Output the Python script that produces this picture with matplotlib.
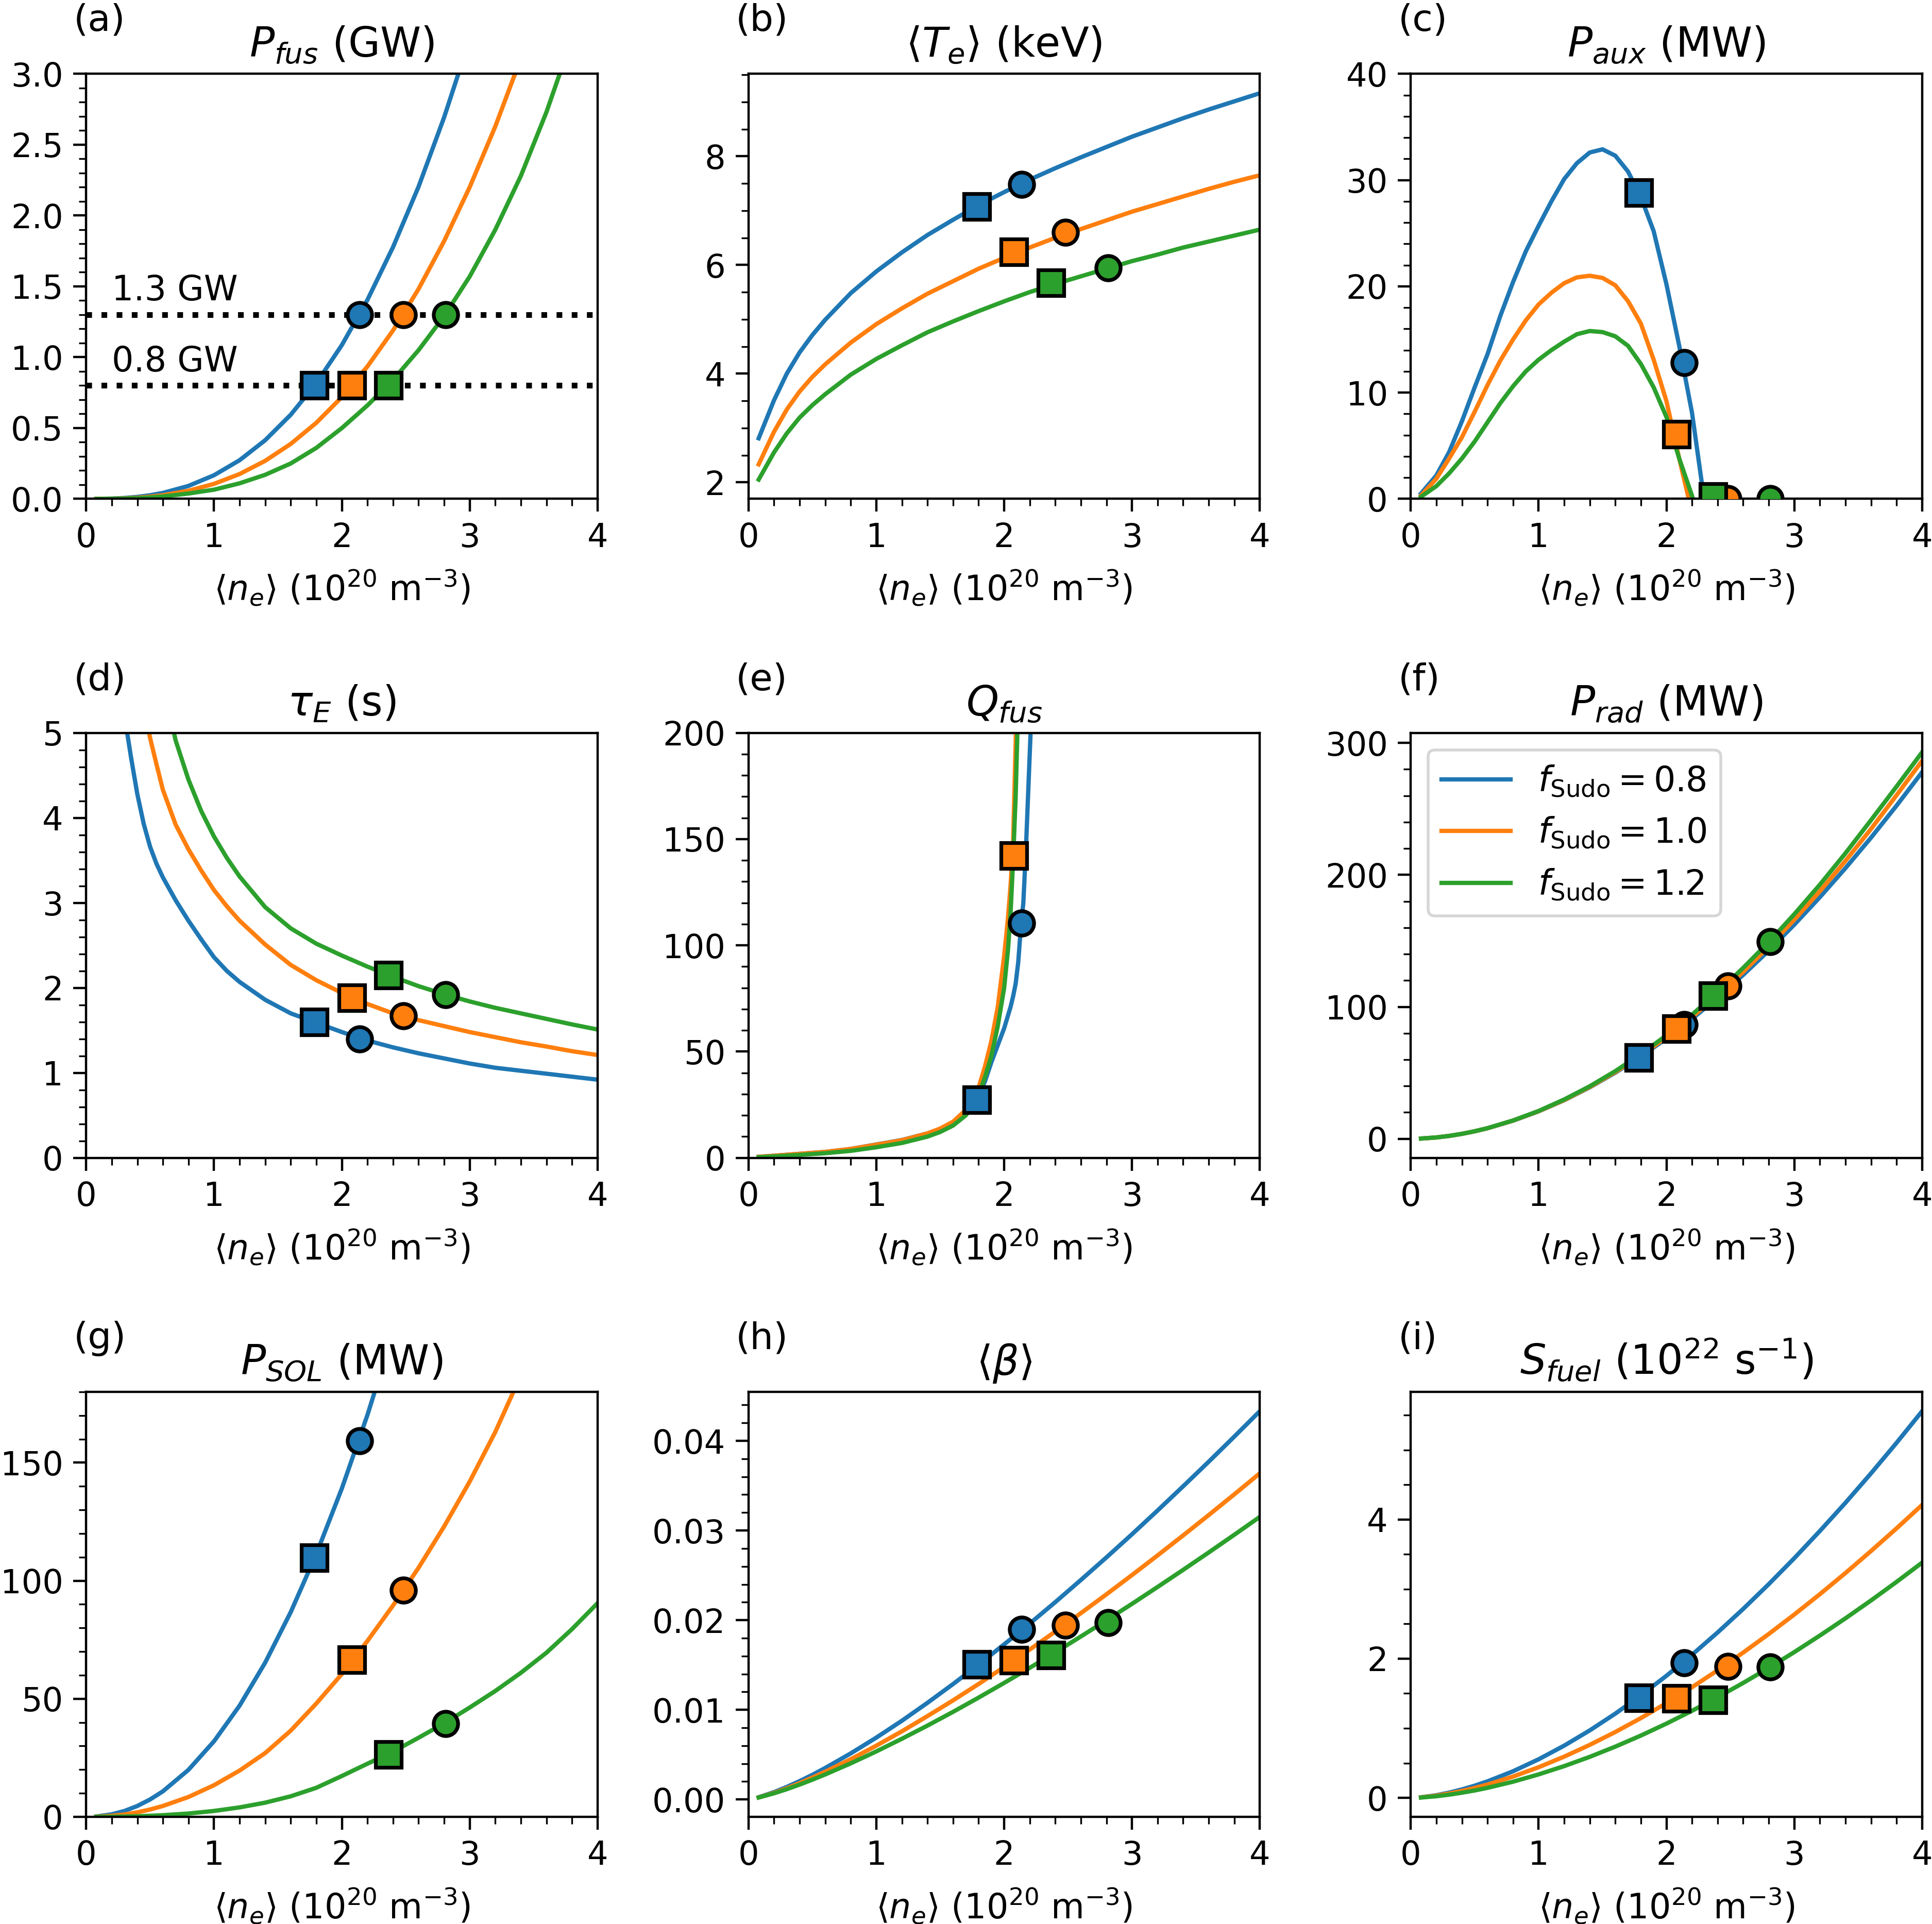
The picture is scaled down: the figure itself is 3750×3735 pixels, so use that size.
import numpy as np
import matplotlib
matplotlib.use('Agg')
import matplotlib.pyplot as plt
from matplotlib.ticker import MultipleLocator, AutoMinorLocator

# density grids (1e20 m^-3)
ne = [0.08, 0.2, 0.3, 0.4, 0.5, 0.6, 0.8, 1.0, 1.2, 1.4, 1.6, 1.8, 2.0,
      2.2, 2.4, 2.6, 2.8, 3.0, 3.2, 3.4, 3.6, 3.8, 4.0]
ne_aux = [0.08, 0.2, 0.3, 0.4, 0.5, 0.6, 0.7, 0.8, 0.9, 1.0, 1.1, 1.2, 1.3,
          1.4, 1.5, 1.6, 1.7, 1.8, 1.9, 2.0, 2.1, 2.2, 2.3, 2.4]
ne_tau = [0.3, 0.35, 0.4, 0.45, 0.5, 0.55, 0.6, 0.7, 0.8, 0.9, 1.0, 1.1, 1.2,
          1.4, 1.6, 1.8, 2.0, 2.2, 2.4, 2.6, 2.8, 3.0, 3.2, 3.4, 3.6, 3.8, 4.0]
ne_q = [0.08, 0.2, 0.4, 0.6, 0.8, 1.0, 1.2, 1.4, 1.5, 1.6, 1.7, 1.75, 1.8,
        1.85, 1.9, 1.95, 2.0, 2.03, 2.05, 2.07, 2.09, 2.11, 2.13, 2.15,
        2.17, 2.19, 2.21, 2.23]

f_sudo = ['0.8', '1.0', '1.2']

pfus_08 = [0.0002, 0.0022, 0.0065, 0.0141, 0.0257, 0.0421, 0.0915, 0.167, 0.273, 0.414, 0.594, 0.817,
           1.086, 1.405, 1.777, 2.204, 2.694, 3.245, 3.86, 4.55, 5.31, 6.15, 7.05]
pfus_10 = [0.0001, 0.0013, 0.0038, 0.0085, 0.0157, 0.0259, 0.0573, 0.106, 0.1755, 0.2686, 0.388, 0.537,
           0.719, 0.935, 1.189, 1.482, 1.820, 2.201, 2.629, 3.11, 3.64, 4.22, 4.87]
pfus_12 = [0.0001, 0.0008, 0.0025, 0.0056, 0.0105, 0.0175, 0.038, 0.065, 0.11, 0.17, 0.25, 0.36,
           0.50, 0.66, 0.84, 1.05, 1.29, 1.57, 1.90, 2.28, 2.73, 3.25, 3.85]

te_08 = [2.81, 3.51, 4.00, 4.39, 4.71, 4.99, 5.48, 5.88, 6.23, 6.55, 6.83, 7.10,
         7.34, 7.57, 7.78, 7.98, 8.17, 8.36, 8.53, 8.70, 8.86, 9.01, 9.16]
te_10 = [2.33, 2.93, 3.34, 3.67, 3.94, 4.17, 4.57, 4.91, 5.20, 5.47, 5.70, 5.93,
         6.13, 6.32, 6.50, 6.66, 6.82, 6.98, 7.12, 7.26, 7.40, 7.53, 7.65]
te_12 = [2.05, 2.55, 2.90, 3.19, 3.42, 3.62, 3.98, 4.27, 4.52, 4.76, 4.96, 5.15,
         5.33, 5.50, 5.65, 5.79, 5.93, 6.07, 6.19, 6.32, 6.43, 6.54, 6.65]

paux_08 = [0.5, 2.2, 4.4, 7.3, 10.5, 13.6, 17.2, 20.4, 23.3, 25.7, 28.0, 30.1,
           31.6, 32.6, 32.9, 32.3, 30.8, 28.4, 25.2, 20.2, 14.4, 8.1, -0.5, -10.0]
paux_10 = [0.3, 1.9, 3.8, 5.8, 8.2, 10.7, 13.0, 15.0, 16.8, 18.3, 19.4, 20.3,
           20.85, 21.0, 20.8, 20.1, 18.6, 16.5, 13.1, 9.2, 3.8, -1.3, -6.0, -11.0]
paux_12 = [0.2, 1.2, 2.4, 3.8, 5.4, 7.2, 9.0, 10.6, 12.0, 13.1, 14.0, 14.8,
           15.5, 15.8, 15.7, 15.3, 14.4, 12.7, 10.5, 7.7, 3.8, 0.3, -4.0, -9.0]

tau_08 = [5.2, 4.72, 4.28, 3.93, 3.66, 3.46, 3.30, 3.03, 2.79, 2.57, 2.36, 2.20, 2.07,
          1.86, 1.70, 1.59, 1.48, 1.38, 1.30, 1.23, 1.17, 1.11, 1.06, 1.025, 0.99, 0.955, 0.92]
tau_10 = [7.1, 6.35, 5.75, 5.32, 4.94, 4.63, 4.33, 3.92, 3.63, 3.38, 3.15, 2.96, 2.79,
          2.51, 2.27, 2.09, 1.94, 1.81, 1.70, 1.62, 1.55, 1.48, 1.42, 1.36, 1.31, 1.255, 1.21]
tau_12 = [12.5, 10.4, 8.9, 7.8, 6.9, 6.2, 5.6, 4.91, 4.45, 4.08, 3.78, 3.53, 3.31,
          2.95, 2.70, 2.52, 2.38, 2.25, 2.13, 2.02, 1.925, 1.84, 1.765, 1.70, 1.635, 1.57, 1.51]

qfus_08 = [0.5, 1.0, 1.9, 2.8, 4.2, 6.3, 8.4, 11.5, 13.6, 16.5, 21.0, 24.5, 29.0, 36.0,
           45.0, 53.0, 61.0, 67.0, 71.0, 76.0, 82.0, 92.0, 108.0, 120.0, 145.0, 175.0, 205.0, 250.0]
qfus_10 = [0.5, 1.0, 1.9, 2.8, 4.2, 6.2, 8.3, 11.5, 13.8, 17.0, 22.5, 27.0, 33.0, 43.0,
           55.0, 71.0, 95.0, 113.0, 128.0, 148.0, 195.0, 260.0, 330.0, 400.0, 400.0, 400.0, 400.0, 400.0]
qfus_12 = [0.3, 0.7, 1.4, 2.2, 3.3, 5.0, 7.0, 10.0, 12.2, 15.2, 20.0, 24.0, 29.5, 38.0,
           48.0, 62.0, 80.0, 98.0, 115.0, 140.0, 170.0, 215.0, 290.0, 400.0, 400.0, 400.0, 400.0, 400.0]

prad_08 = [0.2, 1.03, 2.19, 3.75, 5.69, 8.0, 13.7, 20.8, 29.2, 39.0, 50.1, 62.4,
           76.0, 90.9, 106.9, 124.2, 142.6, 162.3, 183.1, 205.1, 228.2, 252.5, 277.9]
prad_10 = [0.2, 1.03, 2.19, 3.75, 5.7, 8.0, 13.8, 20.9, 29.4, 39.3, 50.6, 63.1,
           77.0, 92.2, 108.7, 126.5, 145.6, 166.0, 187.6, 210.6, 234.8, 260.4, 286.5]
prad_12 = [0.2, 1.03, 2.2, 3.77, 5.72, 8.05, 13.9, 21.1, 29.8, 39.8, 51.3, 64.2,
           78.4, 94.1, 111.0, 129.5, 149.1, 170.2, 192.6, 216.4, 241.5, 267.0, 293.0]

psol_08 = [0.15, 1.06, 2.49, 4.59, 7.36, 10.8, 19.9, 32.0, 47.1, 65.3, 86.7, 111.3,
           139.1, 170.2, 204.7, 242.0, 283.0, 330.0, 378.0, 430.0, 485.0, 545.0, 605.0]
psol_10 = [0.05, 0.45, 1.0, 1.9, 3.1, 4.6, 8.4, 13.4, 19.6, 27.0, 36.5, 48.0,
           60.5, 74.5, 89.5, 105.5, 123.0, 142.0, 163.0, 187.0, 213.0, 241.0, 271.0]
psol_12 = [0.0, 0.05, 0.12, 0.25, 0.45, 0.7, 1.4, 2.5, 4.0, 6.0, 8.7, 12.3,
           17.3, 22.5, 27.6, 33.5, 39.6, 46.3, 53.3, 61.0, 69.5, 79.5, 90.5]

beta_08 = [0.00025, 0.00082, 0.0014, 0.00205, 0.00275, 0.00351, 0.00514, 0.0069, 0.00878, 0.01078,
           0.01287, 0.01504, 0.0173, 0.01962, 0.02201, 0.02448, 0.027, 0.02958, 0.03223, 0.03493,
           0.03767, 0.04047, 0.04331]
beta_10 = [0.00023, 0.00074, 0.00125, 0.00182, 0.00244, 0.00309, 0.00449, 0.006, 0.0076, 0.0093,
           0.01105, 0.01288, 0.01477, 0.01672, 0.01873, 0.02078, 0.02288, 0.02503, 0.02722, 0.02945,
           0.03172, 0.03403, 0.03638]
beta_12 = [0.00022, 0.00069, 0.00115, 0.00166, 0.00221, 0.00279, 0.00403, 0.00536, 0.00677, 0.00824,
           0.00977, 0.01136, 0.013, 0.01468, 0.01641, 0.01818, 0.01998, 0.02182, 0.0237, 0.02561,
           0.02755, 0.02952, 0.03152]

sfuel_08 = [0.008, 0.038, 0.075, 0.121, 0.175, 0.237, 0.382, 0.554, 0.750, 0.969, 1.210, 1.472,
            1.754, 2.056, 2.376, 2.714, 3.070, 3.443, 3.834, 4.239, 4.662, 5.101, 5.556]
sfuel_10 = [0.007, 0.032, 0.062, 0.099, 0.142, 0.191, 0.306, 0.44, 0.592, 0.761, 0.946, 1.146,
            1.361, 1.590, 1.832, 2.087, 2.354, 2.634, 2.926, 3.230, 3.546, 3.872, 4.209]
sfuel_12 = [0.005, 0.023, 0.046, 0.074, 0.106, 0.144, 0.232, 0.337, 0.456, 0.589, 0.736, 0.895,
            1.067, 1.251, 1.445, 1.651, 1.867, 2.094, 2.332, 2.579, 2.836, 3.103, 3.380]

# operating points: squares at 0.8 GW, circles at 1.3 GW
ne_sq = [1.786, 2.078, 2.366]
ne_circ = [2.137, 2.48, 2.812]
nan = np.nan
pfus_sq, pfus_circ = [0.8, 0.8, 0.8], [1.3, 1.3, 1.3]
te_sq, te_circ = [7.07, 6.24, 5.67], [7.48, 6.60, 5.95]
paux_sq, paux_circ = [28.8, 6.1, 0.2], [12.8, 0.0, 0.0]
tau_sq, tau_circ = [1.60, 1.88, 2.15], [1.40, 1.67, 1.92]
qfus_sq, qfus_circ = [27.3, 142.3, nan], [110.5, nan, nan]
prad_sq, prad_circ = [61.7, 83.4, 108.4], [86.4, 115.9, 149.5]
psol_sq, psol_circ = [109.8, 66.6, 26.4], [159.3, 95.9, 39.5]
beta_sq, beta_circ = [0.01506, 0.01551, 0.01609], [0.0190, 0.01944, 0.01975]
sfuel_sq, sfuel_circ = [1.44, 1.43, 1.41], [1.937, 1.89, 1.88]

panels = [
    ('(a)', r'$P_{fus}$ (GW)', ne, [pfus_08, pfus_10, pfus_12], pfus_sq, pfus_circ, (0, 3.0), 0.5),
    ('(b)', r'$\langle T_e\rangle$ (keV)', ne, [te_08, te_10, te_12], te_sq, te_circ, None, 2),
    ('(c)', r'$P_{aux}$ (MW)', ne_aux, [paux_08, paux_10, paux_12], paux_sq, paux_circ, (0, 40), 10),
    ('(d)', r'$\tau_E$ (s)', ne_tau, [tau_08, tau_10, tau_12], tau_sq, tau_circ, (0, 5), 1),
    ('(e)', r'$Q_{fus}$', ne_q, [qfus_08, qfus_10, qfus_12], qfus_sq, qfus_circ, (0, 200), 50),
    ('(f)', r'$P_{rad}$ (MW)', ne, [prad_08, prad_10, prad_12], prad_sq, prad_circ, None, 100),
    ('(g)', r'$P_{SOL}$ (MW)', ne, [psol_08, psol_10, psol_12], psol_sq, psol_circ, (0, 180), 50),
    ('(h)', r'$\langle\beta\rangle$', ne, [beta_08, beta_10, beta_12], beta_sq, beta_circ, None, 0.01),
    ('(i)', r'$S_{fuel}$ (10$^{22}$ s$^{-1}$)', ne, [sfuel_08, sfuel_10, sfuel_12], sfuel_sq, sfuel_circ, None, 2),
]

colors = ['tab:blue', 'tab:orange', 'tab:green']

fig = plt.figure(figsize=(9.375, 9.3375), dpi=400)
lefts = [0.0446, 0.3874, 0.7302]
bottoms = [0.7407, 0.3982, 0.0557]
w, h = 0.2647, 0.2209

for k, (tag, title, x, ys, ysq, ycirc, ylim, ystep) in enumerate(panels):
    ax = fig.add_axes([lefts[k % 3], bottoms[k // 3], w, h])
    for j in range(3):
        ax.plot(x, ys[j], color=colors[j], lw=1.5,
                label=r'$f_{\rm Sudo} = %s$' % f_sudo[j])
    for j in range(3):
        ax.plot(ne_sq[j], ysq[j], 's', color=colors[j], mec='k', mew=1.3, ms=9, zorder=3)
        ax.plot(ne_circ[j], ycirc[j], 'o', color=colors[j], mec='k', mew=1.3, ms=8.5, zorder=3)
    ax.set_xlim(0, 4)
    if ylim is not None:
        ax.set_ylim(*ylim)
    ax.xaxis.set_major_locator(MultipleLocator(1))
    ax.xaxis.set_minor_locator(AutoMinorLocator())
    ax.yaxis.set_major_locator(MultipleLocator(ystep))
    ax.yaxis.set_minor_locator(AutoMinorLocator())
    ax.tick_params(which='major', length=4.5, labelsize=11.5)
    ax.tick_params(which='minor', length=2.5)
    ax.set_title(title, fontsize=14.4)
    ax.set_xlabel(r'$\langle n_e\rangle$ (10$^{20}$ m$^{-3}$)', fontsize=12, labelpad=5)
    ax.text(-0.025, 1.125, tag, transform=ax.transAxes, ha='left', va='center', fontsize=13)
    if tag == '(a)':
        ax.axhline(1.3, color='k', ls=':', lw=2)
        ax.axhline(0.8, color='k', ls=':', lw=2)
        ax.text(0.2, 1.4, '1.3 GW', fontsize=12)
        ax.text(0.2, 0.9, '0.8 GW', fontsize=12)
    if tag == '(f)':
        ax.legend(loc='upper left', fontsize=12)

fig.savefig('out.png', dpi=400)
